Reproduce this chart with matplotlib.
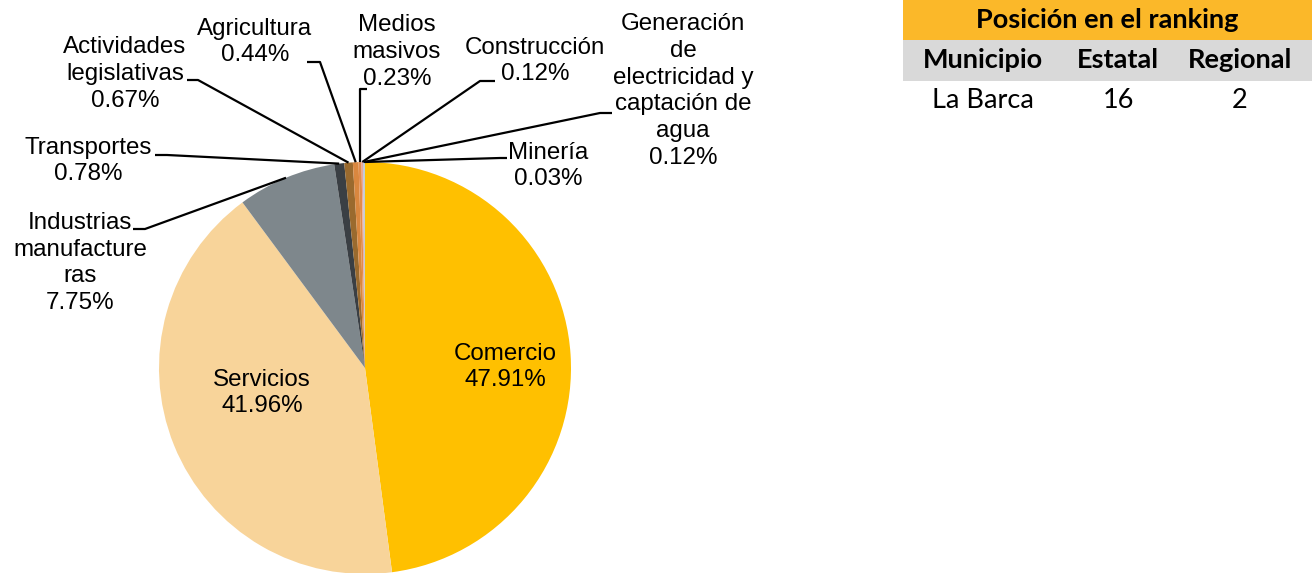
import matplotlib
matplotlib.use("Agg")
import matplotlib.pyplot as plt
from matplotlib.patches import Rectangle
import numpy as np

plt.rcParams['font.family'] = ['Liberation Sans', 'DejaVu Sans']

# ---- data ----
categories = ["Comercio", "Servicios", "Industrias\nmanufacture\nras", "Transportes",
              "Actividades\nlegislativas", "Agricultura", "Medios\nmasivos",
              "Construcción", "Generación\nde\nelectricidad y\ncaptación de\nagua", "Minería"]
values = [47.91, 41.96, 7.75, 0.78, 0.67, 0.44, 0.23, 0.12, 0.12, 0.03]
colors = ["#FFC000", "#F8D49A", "#7E878C", "#3A3F44", "#9A6A2E", "#D9873F",
          "#E28C4C", "#E9A6A0", "#B9C7D3", "#A9B5BE"]

table_title = "Posición en el ranking"
table_header = ["Municipio", "Estatal", "Regional"]
table_row = ["La Barca", "16", "2"]

# ---- layout (pixel coordinates, y measured from top) ----
W, H = 1312, 573
fig = plt.figure(figsize=(W / 100, H / 100), dpi=100)
ax = fig.add_axes([0, 0, 1, 1])

def Y(y):
    return H - y

cx, cy, R = 365, 368, 206
wedges, _ = ax.pie(values, colors=colors, startangle=90, counterclock=False,
                   center=(cx, Y(cy)), radius=R, frame=True,
                   wedgeprops=dict(linewidth=0))
ax.set_xlim(0, W)
ax.set_ylim(0, H)
ax.set_aspect('equal')
ax.axis('off')

FS = 17.4
LS = 1.28
pct = [f"{v:.2f}%" for v in values]

# inside labels
inside = {0: (505, 367), 1: (262, 393)}
for i, (tx, ty) in inside.items():
    ax.text(tx, Y(ty), f"{categories[i]}\n{pct[i]}", ha='center', va='center',
            fontsize=FS, linespacing=LS, color='black')

# outside labels: text center, anchor start, stub end
outside = {
    2: ((80, 263), (133, 229), (145, 229)),
    3: ((88, 161), (155, 155), (167, 155)),
    4: ((125, 74), (187, 80), (198, 80)),
    5: ((255, 42), (307, 62), (320, 62)),
    6: ((397, 52), (367, 89), (360, 89)),
    7: ((535, 61), (495, 81), (480, 81)),
    8: ((683, 91), (612, 113), (600, 113)),
    9: ((548, 166), (507, 158), (500, 158)),
}
for i, ((tx, ty), a, s) in outside.items():
    ax.text(tx, Y(ty), f"{categories[i]}\n{pct[i]}", ha='center', va='center',
            fontsize=FS, linespacing=LS, color='black')
    w = wedges[i]
    mid = np.deg2rad((w.theta1 + w.theta2) / 2)
    px = cx + R * np.cos(mid)
    py = Y(cy) + R * np.sin(mid)
    ax.plot([a[0], s[0], px], [Y(a[1]), Y(s[1]), py], color='black', lw=1.6,
            solid_capstyle='butt', zorder=5)

# ---- ranking table ----
tx0, tx1 = 903, W
ax.add_patch(Rectangle((tx0, Y(40)), tx1 - tx0, 40, color='#FBB829', lw=0))
ax.add_patch(Rectangle((tx0, Y(81)), tx1 - tx0, 41, color='#D9D9D9', lw=0))
tfont = ['Lato', 'DejaVu Sans']
TFS = 19.5
ax.text((tx0 + tx1) / 2, Y(20), table_title, ha='center', va='center',
        fontsize=TFS, fontweight='bold', family=tfont)
colx = [983, 1118, 1240]
for x, h, r in zip(colx, table_header, table_row):
    ax.text(x, Y(60), h, ha='center', va='center', fontsize=TFS,
            fontweight='bold', family=tfont)
    ax.text(x, Y(101), r, ha='center', va='center', fontsize=TFS, family=tfont)

fig.savefig("out.png", dpi=100)
